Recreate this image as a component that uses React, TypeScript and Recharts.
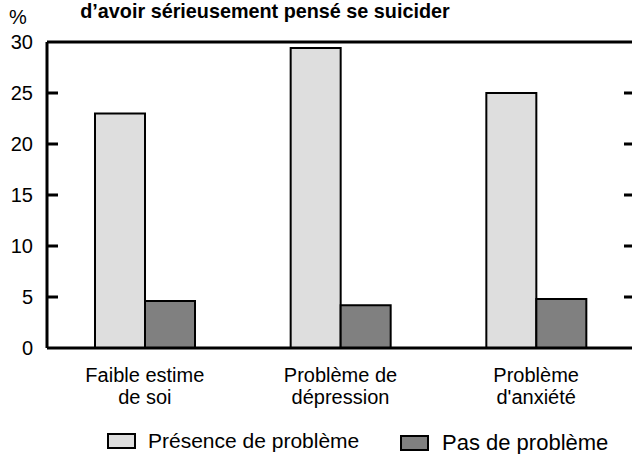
import React from "react";
import { BarChart, Bar, XAxis, YAxis, ReferenceLine } from "recharts";

const categories = ["Faible estime\nde soi", "Problème de\ndépression", "Problème\nd'anxiété"];
const presence = [23, 29.4, 25];
const absence = [4.6, 4.2, 4.8];
const yTicks = [0, 5, 10, 15, 20, 25, 30];

const series = [
  { key: "presence", name: "Présence de problème", fill: "#dedede" },
  { key: "absence", name: "Pas de problème", fill: "#808080" },
];

const data = categories.map((c, i) => ({ name: c, presence: presence[i], absence: absence[i] }));

const FONT = "'Liberation Sans', Arial, sans-serif";

function CategoryTick({ x, y, payload }: any) {
  const lines = String(payload.value).split("\n");
  return (
    <text x={x} y={y} textAnchor="middle" fontSize={20} fill="#000" fontFamily={FONT}>
      {lines.map((l, i) => (
        <tspan key={i} x={x} dy={i === 0 ? 34 : 22}>
          {l}
        </tspan>
      ))}
    </text>
  );
}

// one line across the plot, dashed so only the two inward tick ends show
function FrameTicks(props: any) {
  const { x1, x2, y1 } = props;
  if (x1 == null || y1 == null) return null;
  const left = Math.min(x1, x2);
  const right = Math.max(x1, x2);
  const span = right - left;
  return (
    <path
      d={`M${left},${y1}H${right}`}
      stroke="#000"
      strokeWidth={3}
      fill="none"
      strokeDasharray={`11 ${span - 21} 10 0`}
    />
  );
}

export default function App() {
  return (
    <div style={{ position: "relative", width: 632, height: 454, overflow: "hidden", fontFamily: FONT }}>
      <style>{`body{margin:0}`}</style>
      <div style={{ position: "absolute", left: 9, top: 6, fontSize: 20 }}>%</div>
      <div style={{ position: "absolute", left: 265, top: 0, transform: "translateX(-50%)", fontSize: 19.8, fontWeight: "bold", whiteSpace: "nowrap" }}>
        d’avoir sérieusement pensé se suicider
      </div>
      <BarChart
        width={635}
        height={454}
        data={data}
        margin={{ top: 42, right: 1, left: 46, bottom: 66 }}
        barCategoryGap={48}
        barGap={0}
        style={{ position: "absolute", left: 0, top: 0 }}
      >
        <XAxis
          dataKey="name"
          height={40}
          tick={<CategoryTick />}
          tickLine={false}
          tickSize={0}
          tickMargin={0}
          axisLine={{ stroke: "#000", strokeWidth: 3 }}
          interval={0}
        />
        <YAxis
          width={1}
          domain={[0, 30]}
          ticks={yTicks}
          tickSize={0}
          tickMargin={14}
          tickLine={false}
          axisLine={{ stroke: "#000", strokeWidth: 3 }}
          tick={{ fill: "#000", fontSize: 20, fontFamily: FONT }}
          interval={0}
        />
        <ReferenceLine y={30} stroke="#000" strokeWidth={3} />
        {yTicks.slice(1, -1).map((v) => (
          <ReferenceLine key={v} y={v} shape={FrameTicks} />
        ))}
        {series.map((s) => (
          <Bar
            key={s.key}
            dataKey={s.key}
            name={s.name}
            fill={s.fill}
            stroke="#000"
            strokeWidth={2}
            isAnimationActive={false}
          />
        ))}
      </BarChart>
      {series.map((s, i) => (
        <div
          key={s.key}
          style={{
            position: "absolute",
            left: i === 0 ? 107 : 400,
            top: i === 0 ? 429 : 430,
            display: "flex",
            alignItems: "center",
            fontSize: i === 0 ? 21 : 22,
            whiteSpace: "nowrap",
          }}
        >
          <span
            style={{
              display: "inline-block",
              width: 25,
              height: 12,
              background: s.fill,
              border: "2px solid #000",
              marginRight: i === 0 ? 12 : 13,
            }}
          />
          <span>{s.name}</span>
        </div>
      ))}
    </div>
  );
}
